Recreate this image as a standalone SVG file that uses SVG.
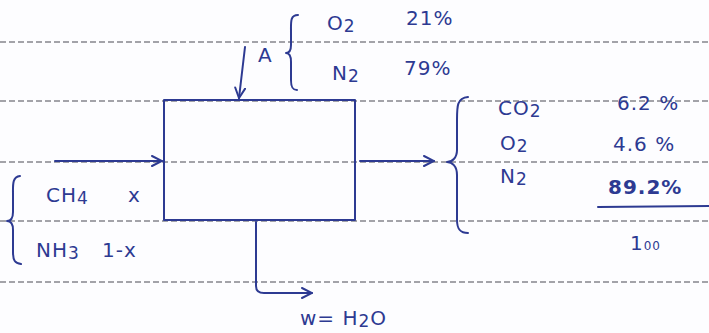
<svg xmlns="http://www.w3.org/2000/svg" width="709" height="333" viewBox="0 0 709 333">
<style>
.rule{stroke:#4a4a55;stroke-width:1.2;stroke-dasharray:6 3;fill:none}
.ink{stroke:#2d3a92;stroke-width:2;fill:none;stroke-linecap:round;stroke-linejoin:round}
.t{font-family:"DejaVu Sans","Liberation Sans",sans-serif;font-size:20px;fill:#2d3a92;letter-spacing:1px}
.s{font-size:17px}
</style>
<defs>
<marker id="ah" viewBox="0 0 12 12" refX="11" refY="6" markerWidth="12" markerHeight="12" markerUnits="userSpaceOnUse" orient="auto">
<path d="M1 1 L11 6 L1 11" fill="none" stroke="#2d3a92" stroke-width="2" stroke-linecap="round"/>
</marker>
</defs>
<rect width="709" height="333" fill="#fdfdff"/>
<g id="ruled-lines">
<line class="rule" x1="0" y1="42" x2="709" y2="42"/>
<line class="rule" x1="0" y1="101" x2="709" y2="101"/>
<line class="rule" x1="0" y1="162" x2="709" y2="162"/>
<line class="rule" x1="0" y1="221" x2="709" y2="221"/>
<line class="rule" x1="0" y1="282" x2="709" y2="282"/>
</g>
<g id="reactor">
<rect class="ink" x="164" y="100" width="191" height="120"/>
</g>
<g id="connectors">
<path class="ink" d="M245 47 L239 98" marker-end="url(#ah)"/>
<path class="ink" d="M55 161 L162 161" marker-end="url(#ah)"/>
<path class="ink" d="M360 161 L434 161" marker-end="url(#ah)"/>
<path class="ink" d="M256 222 L256 286 Q256 293 264 293 L312 293" marker-end="url(#ah)"/>
</g>
<g id="air-feed">
<text class="t" x="258" y="62" font-size="21">A</text>
<path class="ink" d="M298 15 C290 15 291 22 291 32 L291 45 C291 50 289 53 286 53 C289 53 291 56 291 62 L291 80 C291 88 293 90 297 90" stroke-width="1.8"/>
<text class="t" x="327" y="30">O<tspan class="s" dy="2">2</tspan></text>
<text class="t" x="406" y="25">21%</text>
<text class="t" x="332" y="80">N<tspan class="s" dy="2">2</tspan></text>
<text class="t" x="404" y="75">79%</text>
</g>
<g id="fuel-feed">
<path class="ink" d="M20 176 C12 177 13 185 13 195 L13 212 C13 218 11 221 7 221 C11 221 13 224 13 230 L13 252 C13 261 15 263 21 264" stroke-width="1.8"/>
<text class="t" x="46" y="202">CH<tspan class="s" dy="2">4</tspan></text>
<text class="t" x="128" y="202">x</text>
<text class="t" x="36" y="257">NH<tspan class="s" dy="2">3</tspan></text>
<text class="t" x="102" y="257">1-x</text>
</g>
<g id="flue-gas">
<path class="ink" d="M468 97 C457 98 457 106 457 120 L457 150 C457 158 452 162 447 162 C452 162 457 166 457 175 L457 220 C457 229 460 233 468 233" stroke-width="1.8"/>
<text class="t" x="498" y="115">CO<tspan class="s" dy="2">2</tspan></text>
<text class="t" x="500" y="150">O<tspan class="s" dy="2">2</tspan></text>
<text class="t" x="500" y="183">N<tspan class="s" dy="2">2</tspan></text>
<text class="t" x="617" y="110">6.2 %</text>
<text class="t" x="613" y="151">4.6 %</text>
<text class="t" x="608" y="194" font-weight="bold">89.2%</text>
<line class="ink" x1="598" y1="207" x2="709" y2="206"/>
<text class="t" x="630" y="250">1<tspan font-size="12">00</tspan></text>
</g>
<g id="water">
<text class="t" x="300" y="325">w= H<tspan class="s" dy="2">2</tspan><tspan dy="-2">O</tspan></text>
</g>
</svg>
